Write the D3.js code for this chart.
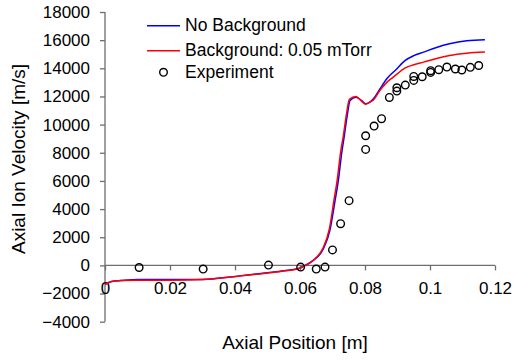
<!DOCTYPE html>
<html>
<head>
<meta charset="utf-8">
<script src="https://cdn.jsdelivr.net/npm/d3@7"></script>
<style>
  body { margin: 0; background: #fff; }
  text { font-family: "Liberation Sans", Arial, sans-serif; }
</style>
</head>
<body>
<script>
var w = 513;
var h = 360;

// simulation: no background
var blueX = [0, 0.002, 0.005, 0.01, 0.02, 0.03, 0.04, 0.05, 0.055, 0.06, 0.061, 0.0641, 0.0672, 0.0692, 0.0708, 0.0718, 0.0728, 0.0735, 0.0745, 0.0754, 0.0772, 0.079, 0.0802, 0.0815, 0.0826, 0.0845, 0.0867, 0.0895, 0.0924, 0.095, 0.098, 0.102, 0.106, 0.1113, 0.1169];
var blueY = [-1350, -1150, -1080, -1000, -1000, -1000, -780, -520, -380, -180, -70, 355, 1180, 2490, 4620, 6040, 7930, 9000, 10600, 11720, 11950, 11700, 11480, 11600, 11830, 12500, 13260, 13900, 14560, 14900, 15150, 15480, 15740, 15950, 16020];

// simulation: background 0.05 mTorr
var redX = [0, 0.002, 0.005, 0.01, 0.02, 0.03, 0.04, 0.05, 0.055, 0.06, 0.061, 0.064, 0.067, 0.069, 0.0705, 0.0715, 0.0725, 0.0733, 0.0743, 0.0752, 0.0772, 0.079, 0.0802, 0.0815, 0.0826, 0.0845, 0.0867, 0.0887, 0.0924, 0.095, 0.098, 0.102, 0.106, 0.1113, 0.1169];
var redY = [-1350, -1150, -1080, -1050, -1050, -1000, -800, -540, -400, -200, -80, 350, 1200, 2550, 4700, 6150, 8050, 9150, 10750, 11800, 12000, 11650, 11450, 11600, 11750, 12400, 13000, 13370, 14030, 14250, 14440, 14700, 14910, 15070, 15150];

// experiment
var expX = [0.0105, 0.0302, 0.0503, 0.0602, 0.065, 0.0677, 0.070, 0.0725, 0.0751, 0.0802, 0.0802, 0.0828, 0.0851, 0.0875, 0.0898, 0.0898, 0.0924, 0.095, 0.095, 0.0976, 0.1002, 0.1002, 0.1027, 0.1052, 0.1078, 0.1098, 0.1124, 0.115];
var expY = [-150, -260, 20, -120, -260, -120, 1100, 2960, 4600, 8240, 9210, 9900, 10420, 11930, 12380, 12620, 12810, 13140, 13420, 13400, 13710, 13830, 13900, 14090, 13950, 13880, 14070, 14200];

var xTicks = [0, 0.02, 0.04, 0.06, 0.08, 0.1, 0.12];
var yTicks = [-4000, -2000, 0, 2000, 4000, 6000, 8000, 10000, 12000, 14000, 16000, 18000];
var seriesNames = ["No Background", "Background: 0.05 mTorr", "Experiment"];

var x = d3.scaleLinear().domain([0, 0.12]).range([105, 495]);
var y = d3.scaleLinear().domain([-4000, 18000]).range([321.7, 12]);

var svg = d3.select("body")
            .append("svg")
            .attr("width", w)
            .attr("height", h);

// y axis
var yAxis = svg.append("g")
               .attr("class", "yaxis")
               .attr("transform", "translate(" + x(0) + ",0)")
               .call(d3.axisLeft(y).tickValues(yTicks).tickSize(5).tickPadding(10).tickFormat(d3.format("d")));
yAxis.selectAll("text").attr("font-size", "17px").attr("fill", "#000");

// x axis sits on y = 0
var xAxis = svg.append("g")
               .attr("class", "xaxis")
               .attr("transform", "translate(0," + y(0) + ")")
               .call(d3.axisBottom(x).tickValues(xTicks).tickSize(5).tickPadding(12).tickFormat(function(d){ return String(+d.toFixed(2)); }));
xAxis.selectAll("text").attr("font-size", "17px").attr("fill", "#000");

svg.selectAll(".domain, .tick line").attr("stroke", "#6e6e6e").attr("stroke-width", 1.3);
xAxis.select(".domain").attr("d", "M" + x(0) + ",0H" + x(0.12));
yAxis.select(".domain").attr("d", "M0," + y(-4000) + "V" + y(18000));

var line = d3.line()
             .curve(d3.curveMonotoneX)
             .x(function(d){ return x(d[0]); })
             .y(function(d){ return y(d[1]); });

svg.append("path")
   .datum(blueX.map(function(d, i){ return [d, blueY[i]]; }))
   .attr("d", line)
   .attr("fill", "none")
   .attr("stroke", "#0000ff")
   .attr("stroke-width", 1.5);

svg.append("path")
   .datum(redX.map(function(d, i){ return [d, redY[i]]; }))
   .attr("d", line)
   .attr("fill", "none")
   .attr("stroke", "#ff0000")
   .attr("stroke-width", 1.5);

svg.selectAll("circle.exp")
   .data(expX.map(function(d, i){ return [d, expY[i]]; }))
   .enter()
   .append("circle")
   .attr("class", "exp")
   .attr("cx", function(d){ return x(d[0]); })
   .attr("cy", function(d){ return y(d[1]); })
   .attr("r", 3.8)
   .attr("fill", "none")
   .attr("stroke", "#000")
   .attr("stroke-width", 1.4);

// axis titles
svg.append("text")
   .text("Axial Ion Velocity [m/s]")
   .attr("transform", "translate(25,159) rotate(-90)")
   .attr("text-anchor", "middle")
   .attr("font-size", "19px");

svg.append("text")
   .text("Axial Position [m]")
   .attr("x", 295)
   .attr("y", 349)
   .attr("text-anchor", "middle")
   .attr("font-size", "19px");

// legend
var legend = svg.append("g");
var legendY = [25.7, 50.7, 72.3];
legend.append("line").attr("x1", 147).attr("x2", 180).attr("y1", legendY[0]).attr("y2", legendY[0])
      .attr("stroke", "#0000ff").attr("stroke-width", 1.5);
legend.append("line").attr("x1", 147).attr("x2", 180).attr("y1", legendY[1]).attr("y2", legendY[1])
      .attr("stroke", "#ff0000").attr("stroke-width", 1.5);
legend.append("circle").attr("cx", 163.5).attr("cy", legendY[2]).attr("r", 3.8)
      .attr("fill", "none").attr("stroke", "#000").attr("stroke-width", 1.4);
legend.selectAll("text")
      .data(seriesNames)
      .enter()
      .append("text")
      .text(function(d){ return d; })
      .attr("x", 185)
      .attr("y", function(d, i){ return legendY[i] + 5.5; })
      .attr("font-size", "17.5px");
</script>
</body>
</html>
